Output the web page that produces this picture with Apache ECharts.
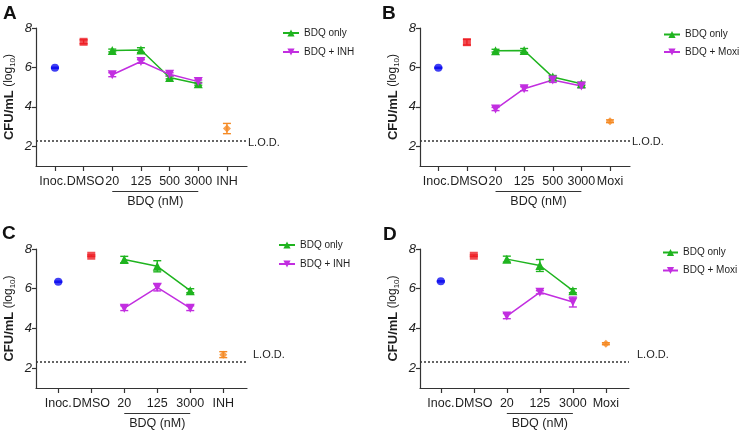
<!DOCTYPE html>
<html><head><meta charset="utf-8">
<script src="https://cdn.jsdelivr.net/npm/echarts@6/dist/echarts.min.js"></script>
<style>html,body{margin:0;padding:0;background:#fff}#c{width:747px;height:433px}</style>
</head><body><div id="c"></div>
<script>
// ---- tick labels / categories ----
const catsA = ['Inoc.', 'DMSO', '20', '125', '500', '3000', 'INH'];
const catsB = ['Inoc.', 'DMSO', '20', '125', '500', '3000', 'Moxi'];
const catsC = ['Inoc.', 'DMSO', '20', '125', '3000', 'INH'];
const catsD = ['Inoc.', 'DMSO', '20', '125', '3000', 'Moxi'];
const yTicks = [2, 4, 6, 8];
const panelLetters = ['A', 'B', 'C', 'D'];
const comboNames = ['BDQ + INH', 'BDQ + Moxi', 'BDQ + INH', 'BDQ + Moxi'];
const lodValue = 2.3;

// ---- values (log10 CFU/mL) per panel A, B, C, D ----
const inocVals = [5.98, 5.98, 6.35, 6.37];
const inocErr = [0.03, 0.03, 0.03, 0.03];
const dmsoVals = [7.30, 7.28, 7.66, 7.66];
const dmsoErr = [0.10, 0.14, 0.04, 0.04];
const drugVals = [2.90, 3.27, 2.68, 3.23];
const drugErr = [0.26, 0.07, 0.15, 0.05];

const bdqOnlyA = [6.86, 6.88, 5.49, 5.17];
const bdqOnlyErrA = [0.07, 0.12, 0.07, 0.07];
const comboA = [5.63, 6.30, 5.65, 5.28];
const comboErrA = [0.10, 0.09, 0.08, 0.08];

const bdqOnlyB = [6.85, 6.86, 5.51, 5.17];
const bdqOnlyErrB = [0.07, 0.10, 0.08, 0.08];
const comboB = [3.89, 4.92, 5.36, 5.06];
const comboErrB = [0.08, 0.10, 0.12, 0.10];

const bdqOnlyC = [7.47, 7.13, 5.90];
const bdqOnlyErrC = [0.16, 0.28, 0.10];
const comboC = [5.02, 6.07, 5.02];
const comboErrC = [0.12, 0.18, 0.12];

const bdqOnlyD = [7.49, 7.17, 5.90];
const bdqOnlyErrD = [0.15, 0.30, 0.10];
const comboD = [4.62, 5.82, 5.33];
const comboErrD = [0.13, 0.08, 0.25];

const panels = [
  {cats: catsA, only: bdqOnlyA, onlyErr: bdqOnlyErrA, combo: comboA, comboErr: comboErrA},
  {cats: catsB, only: bdqOnlyB, onlyErr: bdqOnlyErrB, combo: comboB, comboErr: comboErrB},
  {cats: catsC, only: bdqOnlyC, onlyErr: bdqOnlyErrC, combo: comboC, comboErr: comboErrC},
  {cats: catsD, only: bdqOnlyD, onlyErr: bdqOnlyErrD, combo: comboD, comboErr: comboErrD}
];

const C_BLUE = '#1010f0', C_RED = '#ee1f26', C_GREEN = '#1fb41f', C_MAG = '#c22ee0', C_ORANGE = '#f58a24';
const FONT = 'Liberation Sans, Arial, sans-serif';
const TXT = '#1e1e1e';
const INV_TRI = 'path://M0,0 L10,0 L5,9 Z';

const gridsLayout = [
  {left: 36, right: 500, top: 28, bottom: 267},
  {left: 420, right: 117, top: 28, bottom: 267},
  {left: 36, right: 500, top: 249, bottom: 45},
  {left: 420, right: 118, top: 249, bottom: 45}
];
const xRanges = [[-0.66, 6.7], [-0.64, 6.7], [-0.675, 5.72], [-0.63, 5.7]];
const labelNudge = [4, 4, 0, 0];
const legendPos = [
  {left: 282, top: 27, itemGap: 7, itemWidth: 16},
  {left: 663, top: 28.5, itemGap: 5.5, itemWidth: 16},
  {left: 278, top: 239, itemGap: 7, itemWidth: 16},
  {left: 662, top: 246.5, itemGap: 6, itemWidth: 15}
];
const lodLabelOffset = [[-4, 3], [-3, 2], [1, -7], [3, -7]];

function errRender(color) {
  return function (params, api) {
    const x = api.value(0);
    const lo = api.coord([x, api.value(1)]);
    const hi = api.coord([x, api.value(2)]);
    const w = 4;
    const st = {stroke: color, lineWidth: 1.4};
    return {type: 'group', children: [
      {type: 'line', shape: {x1: lo[0], y1: lo[1], x2: hi[0], y2: hi[1]}, style: st},
      {type: 'line', shape: {x1: lo[0] - w, y1: lo[1], x2: lo[0] + w, y2: lo[1]}, style: st},
      {type: 'line', shape: {x1: hi[0] - w, y1: hi[1], x2: hi[0] + w, y2: hi[1]}, style: st}
    ]};
  };
}
function errSeries(i, data, color) {
  return {type: 'custom', xAxisIndex: i, yAxisIndex: i, renderItem: errRender(color),
    data: data, silent: true, z: 3, encode: {x: 0, y: [1, 2]}};
}

const grid = [], xAxis = [], yAxis = [], series = [], legend = [];
function labelStyle(i) {
  const rt = {color: TXT, fontFamily: FONT, fontSize: 12.5};
  return {color: TXT, fontFamily: FONT, fontSize: 12.5, margin: 9, hideOverlap: false,
    rich: {
      t: rt,
      L: Object.assign({padding: [0, labelNudge[i], 0, 0]}, rt),
      R: Object.assign({padding: [0, 0, 0, labelNudge[i]]}, rt)
    }};
}
panels.forEach((p, i) => {
  grid.push(Object.assign({containLabel: false}, gridsLayout[i]));
  const cats = p.cats;
  const allIdx = cats.map((c, k) => k);
  xAxis.push({
    type: 'value', gridIndex: i, min: xRanges[i][0], max: xRanges[i][1], position: 'bottom',
    splitLine: {show: false},
    axisLine: {show: true, onZero: false, lineStyle: {color: '#333', width: 1.2}},
    axisTick: {show: true, customValues: allIdx, length: 5, lineStyle: {color: '#333', width: 1.2}},
    axisLabel: Object.assign({customValues: allIdx.filter(k => k !== 1),
      formatter: v => { const k = Math.round(v); return (k === 0 ? '{L|' : '{t|') + cats[k] + '}'; }}, labelStyle(i))
  });
  yAxis.push({
    type: 'value', gridIndex: i, min: 1, max: 8,
    splitLine: {show: false},
    axisLine: {show: true, onZero: false, lineStyle: {color: '#333', width: 1.2}},
    axisTick: {show: true, customValues: yTicks, length: 4, lineStyle: {color: '#333', width: 1.2}},
    axisLabel: {customValues: yTicks, color: TXT, fontFamily: FONT, fontSize: 13, fontStyle: 'italic', margin: 4},
    name: '{b|CFU/mL} {n|(log}{s|10}{n|)}',
    nameLocation: 'middle', nameGap: 19, nameRotate: 90,
    nameTextStyle: {fontFamily: FONT, color: TXT, rich: {
      b: {fontWeight: 'bold', fontSize: 13, fontFamily: FONT, color: TXT, lineHeight: 16},
      n: {fontSize: 12, fontFamily: FONT, color: TXT, lineHeight: 16},
      s: {fontSize: 8, fontFamily: FONT, color: TXT, verticalAlign: 'bottom', lineHeight: 16}
    }}
  });
  const last = cats.length - 1;
  series.push({
    type: 'scatter', name: 'Inoc.', xAxisIndex: i, yAxisIndex: i, symbol: 'circle', symbolSize: 8,
    itemStyle: {color: C_BLUE}, z: 4, data: [[0, inocVals[i]]],
    markLine: {silent: true, symbol: 'none', animation: false,
      lineStyle: {color: '#333', type: [2, 2], width: 1.5},
      label: {show: true, position: 'end', formatter: 'L.O.D.', color: TXT, fontFamily: FONT, fontSize: 11,
        offset: lodLabelOffset[i]},
      data: [{yAxis: lodValue}]}
  });
  series.push(errSeries(i, [[0, inocVals[i] - inocErr[i], inocVals[i] + inocErr[i]]], C_BLUE));
  series.push({type: 'scatter', name: 'DMSO', xAxisIndex: i, yAxisIndex: i, symbol: 'rect', symbolSize: 8,
    itemStyle: {color: C_RED}, z: 4, data: [[1, dmsoVals[i]]]});
  series.push(errSeries(i, [[1, dmsoVals[i] - dmsoErr[i], dmsoVals[i] + dmsoErr[i]]], C_RED));
  series.push({type: 'line', name: 'BDQ only', xAxisIndex: i, yAxisIndex: i, symbol: 'triangle', symbolSize: 9,
    itemStyle: {color: C_GREEN}, lineStyle: {color: C_GREEN, width: 1.5}, z: 4,
    data: p.only.map((v, k) => [k + 2, v])});
  series.push(errSeries(i, p.only.map((v, k) => [k + 2, v - p.onlyErr[k], v + p.onlyErr[k]]), C_GREEN));
  series.push({type: 'line', name: comboNames[i], xAxisIndex: i, yAxisIndex: i, symbol: INV_TRI, symbolSize: 9,
    itemStyle: {color: C_MAG}, lineStyle: {color: C_MAG, width: 1.5}, z: 4,
    data: p.combo.map((v, k) => [k + 2, v])});
  series.push(errSeries(i, p.combo.map((v, k) => [k + 2, v - p.comboErr[k], v + p.comboErr[k]]), C_MAG));
  series.push({type: 'scatter', name: cats[last], xAxisIndex: i, yAxisIndex: i, symbol: 'diamond', symbolSize: 8,
    itemStyle: {color: C_ORANGE}, z: 4, data: [[last, drugVals[i]]]});
  series.push(errSeries(i, [[last, drugVals[i] - drugErr[i], drugVals[i] + drugErr[i]]], C_ORANGE));

  legend.push(Object.assign({
    orient: 'vertical', data: ['BDQ only', comboNames[i]], itemHeight: 9, padding: 0,
    textStyle: {fontFamily: FONT, fontSize: 10, color: TXT, lineHeight: 12}, selectedMode: false
  }, legendPos[i]));
});
// secondary x axes (same grids/scales) carrying only the DMSO label, so touching labels are all drawn
panels.forEach((p, i) => {
  const cats = p.cats;
  xAxis.push({
    type: 'value', gridIndex: i, min: xRanges[i][0], max: xRanges[i][1], position: 'bottom', offset: 0,
    splitLine: {show: false}, axisLine: {show: false}, axisTick: {show: false},
    axisLabel: Object.assign({customValues: [1], formatter: v => '{R|' + cats[Math.round(v)] + '}'}, labelStyle(i))
  });
});

const chart = echarts.init(document.getElementById('c'), null, {renderer: 'canvas'});
chart.setOption({animation: false, backgroundColor: '#fff', grid, xAxis, yAxis, series, legend});

// annotations: panel letters and BDQ (nM) brackets (positioned from the axes' own scales)
const letterPos = [[3, 4], [382, 4], [2, 224], [383, 225]];
const graphic = [];
panels.forEach((p, i) => {
  graphic.push({type: 'text', left: letterPos[i][0], top: letterPos[i][1],
    style: {text: panelLetters[i], font: 'bold 19px ' + FONT, fill: '#111'}});
  const a = chart.convertToPixel({xAxisIndex: i, yAxisIndex: i}, [2, 1]);
  const b = chart.convertToPixel({xAxisIndex: i, yAxisIndex: i}, [p.only.length + 1, 1]);
  graphic.push({type: 'line', shape: {x1: a[0], y1: a[1] + 25.5, x2: b[0], y2: a[1] + 25.5},
    style: {stroke: '#333', lineWidth: 1.2}});
  graphic.push({type: 'text', x: (a[0] + b[0]) / 2, y: a[1] + 36,
    style: {text: 'BDQ (nM)', font: '12.5px ' + FONT, fill: TXT, textAlign: 'center', textVerticalAlign: 'middle'}});
});
chart.setOption({graphic});
</script></body></html>
